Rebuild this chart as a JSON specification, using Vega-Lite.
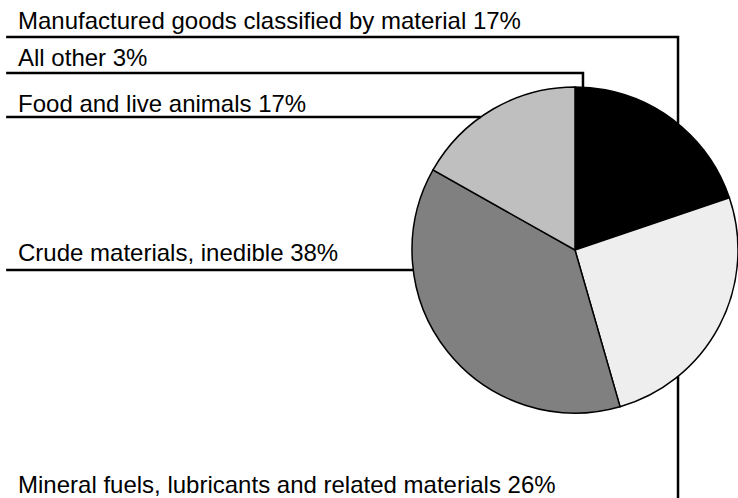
{
  "$schema": "https://vega.github.io/schema/vega-lite/v6.json",
  "width": 326,
  "height": 326,
  "autosize": {"type": "none"},
  "padding": {"left": 412, "top": 87, "right": 0, "bottom": 85},
  "background": "white",
  "config": {"view": {"stroke": null}},
  "datasets": {
    "slices": [
      {"category": "All other", "idx": 1, "share": 3},
      {"category": "Manufactured goods classified by material", "idx": 2, "share": 17},
      {"category": "Mineral fuels, lubricants and related materials", "idx": 3, "share": 26},
      {"category": "Crude materials, inedible", "idx": 4, "share": 38},
      {"category": "Food and live animals", "idx": 5, "share": 17}
    ],
    "leaders": [
      {"label": "Manufactured", "seq": 1, "x": -3.49, "y": 1.307},
      {"label": "Manufactured", "seq": 2, "x": 0.632, "y": 1.307},
      {"label": "Manufactured", "seq": 3, "x": 0.632, "y": 0.775},
      {"label": "All other", "seq": 1, "x": -3.49, "y": 1.086},
      {"label": "All other", "seq": 2, "x": 0.049, "y": 1.086},
      {"label": "All other", "seq": 3, "x": 0.049, "y": 0.999},
      {"label": "Food", "seq": 1, "x": -3.49, "y": 0.816},
      {"label": "Food", "seq": 2, "x": -0.578, "y": 0.816},
      {"label": "Crude", "seq": 1, "x": -3.49, "y": -0.123},
      {"label": "Crude", "seq": 2, "x": -0.992, "y": -0.123},
      {"label": "Mineral", "seq": 1, "x": 0.632, "y": -0.775},
      {"label": "Mineral", "seq": 2, "x": 0.632, "y": -1.55},
      {"label": "Mineral", "seq": 3, "x": -3.49, "y": -1.55}
    ],
    "labels": [
      {"text": "Manufactured goods classified by material 17%", "x": -3.417, "y": 1.356},
      {"text": "All other 3%", "x": -3.417, "y": 1.129},
      {"text": "Food and live animals 17%", "x": -3.417, "y": 0.847},
      {"text": "Crude materials, inedible 38%", "x": -3.417, "y": -0.0675},
      {"text": "Mineral fuels, lubricants and related materials 26%", "x": -3.417, "y": -1.491}
    ]
  },
  "layer": [
    {
      "data": {"name": "slices"},
      "mark": {"type": "arc", "stroke": "black", "strokeWidth": 1.5},
      "encoding": {
        "theta": {"field": "share", "type": "quantitative", "stack": true},
        "order": {"field": "idx", "type": "quantitative"},
        "color": {
          "field": "category",
          "type": "nominal",
          "scale": {
            "domain": ["All other", "Manufactured goods classified by material", "Mineral fuels, lubricants and related materials", "Crude materials, inedible", "Food and live animals"],
            "range": ["#000000", "#000000", "#eeeeee", "#808080", "#bfbfbf"]
          },
          "legend": null
        }
      }
    },
    {
      "data": {"name": "leaders"},
      "mark": {"type": "line", "color": "black", "strokeWidth": 2.5, "strokeJoin": "miter"},
      "encoding": {
        "x": {"field": "x", "type": "quantitative", "scale": {"domain": [-1, 1], "nice": false, "zero": false}, "axis": null},
        "y": {"field": "y", "type": "quantitative", "scale": {"domain": [-1, 1], "nice": false, "zero": false}, "axis": null},
        "detail": {"field": "label", "type": "nominal"},
        "order": {"field": "seq", "type": "quantitative"}
      }
    },
    {
      "data": {"name": "labels"},
      "mark": {"type": "text", "align": "left", "baseline": "alphabetic", "font": "Liberation Sans", "fontSize": 24, "color": "black"},
      "encoding": {
        "x": {"field": "x", "type": "quantitative", "scale": {"domain": [-1, 1], "nice": false, "zero": false}, "axis": null},
        "y": {"field": "y", "type": "quantitative", "scale": {"domain": [-1, 1], "nice": false, "zero": false}, "axis": null},
        "text": {"field": "text", "type": "nominal"}
      }
    }
  ]
}
